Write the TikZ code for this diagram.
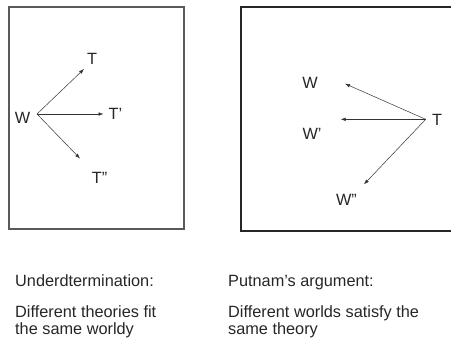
\documentclass[tikz,border=0pt]{standalone}
\usepackage{fontspec}
\setmainfont{Liberation Sans}
\usetikzlibrary{arrows.meta}
\tikzset{
  lbl/.style={font=\fontsize{16.3bp}{17bp}\selectfont, text=black!85, inner sep=0pt},
  arr/.style={-{Latex[length=5bp,width=3.6bp]}, line width=0.5bp, draw=black!80},
}
\begin{document}
\begin{tikzpicture}[x=1bp, y=-1bp]
    \useasboundingbox (0,0) rectangle (451,344);
    \clip (0,0) rectangle (451,344);

    % left panel
    \draw[line width=1.1bp, black!65] (9,7) rectangle (184,229);
    \coordinate (hubL) at (37,114);
    \coordinate (endT) at (84,69);
    \coordinate (endTa) at (103.5,114);
    \coordinate (endTb) at (80,158.5);
    \node[lbl] (wL) at (22.5,117.5) {W};
    \node[lbl] (tL) at (92,58.5) {T};
    \node[lbl] (taL) at (115.5,113.5) {T'};
    \node[lbl] (tbL) at (99.5,177.5) {T''};
    \draw[arr] (hubL) -- (endT);
    \draw[arr] (hubL) -- (endTa);
    \draw[arr] (hubL) -- (endTb);

    % right panel
    \draw[line width=1.5bp, black!85] (241,7) rectangle (470,231);
    \coordinate (hubR) at (425.7,119.3);
    \coordinate (endW) at (345,83.7);
    \coordinate (endWa) at (340.7,119.3);
    \coordinate (endWb) at (364,184.3);
    \node[lbl] (tR) at (437,119.5) {T};
    \node[lbl] (wR) at (310,83) {W};
    \node[lbl] (waR) at (312,134) {W'};
    \node[lbl] (wbR) at (346.5,200) {W''};
    \draw[arr] (hubR) -- (endW);
    \draw[arr] (hubR) -- (endWa);
    \draw[arr] (hubR) -- (endWb);

    % captions
    \node[lbl, anchor=base west] (capL) at (15,286) {Underdtermination:};
    \node[lbl, anchor=base west, align=left] (txtL) at (15,334) {Different theories fit\\the same worldy};
    \node[lbl, anchor=base west] (capR) at (228,286) {Putnam's argument:};
    \node[lbl, anchor=base west, align=left] (txtR) at (228,334) {Different worlds satisfy the\\same theory};
\end{tikzpicture}
\end{document}
